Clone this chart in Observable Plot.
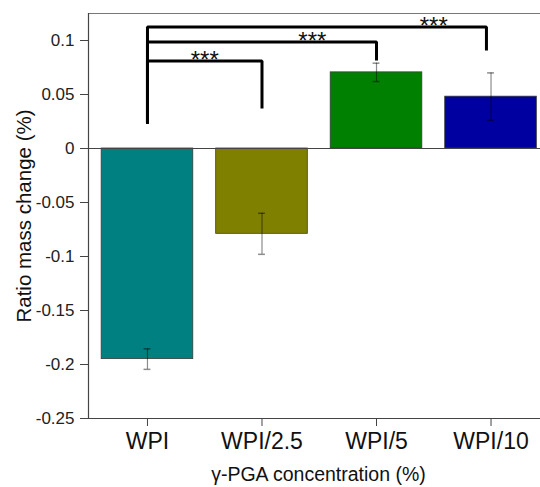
<!DOCTYPE html>
<html>
<head>
<meta charset="utf-8">
<script src="https://cdn.jsdelivr.net/npm/d3@7"></script>
<script src="https://cdn.jsdelivr.net/npm/@observablehq/plot@0.6"></script>
<style>
  html, body { margin: 0; padding: 0; background: #fff; }
  #chart svg { display: block; font-family: "Liberation Sans", Arial, sans-serif; }
</style>
</head>
<body>
<div id="chart"></div>
<script>
// ---- data ----
const categories = ["WPI", "WPI/2.5", "WPI/5", "WPI/10"];
const values = [-0.195, -0.079, 0.0705, 0.048];
const errors = [0.0095, 0.019, 0.0085, 0.022];
const colors = ["#008080", "#808000", "#008000", "#0000A0"];
const yTicks = [-0.25, -0.2, -0.15, -0.1, -0.05, 0, 0.05, 0.1];

// significance brackets: from category 0 to target
const bracketStart = 0.023;
const bracketTops = [0.081, 0.0985, 0.1125];
const bracketTargets = [1, 2, 2.96];
const bracketEnds = [0.037, 0.0815, 0.0907];
const starX = [0.5, 1.44, 2.5];
const starLabels = ["***", "***", "***"];

const xTitle = "γ-PGA concentration (%)";
const yTitle = "Ratio mass change (%)";

// ---- derived tables ----
const bars = categories.map((c, i) => ({
  i, c, v: values[i], e: errors[i], fill: colors[i]
}));
const bracketPts = [];
bracketTops.forEach((h, k) => {
  bracketPts.push({k, x: 0, y: bracketStart});
  bracketPts.push({k, x: 0, y: h});
  bracketPts.push({k, x: bracketTargets[k], y: h});
  bracketPts.push({k, x: bracketTargets[k], y: bracketEnds[k]});
});
const stars = starLabels.map((s, k) => ({s, x: starX[k], y: bracketTops[k] + 0.0055}));

const fmt = d => String(Math.round(d * 100) / 100);

const chart = Plot.plot({
  width: 540,
  height: 487,
  marginTop: 13,
  marginBottom: 69,
  marginLeft: 88,
  marginRight: 0,
  style: {fontFamily: "Liberation Sans, Arial, sans-serif", background: "#fff"},
  x: {type: "linear", domain: [-0.515, 3.432]},
  y: {domain: [-0.25, 0.125]},
  marks: [
    // frame lines
    Plot.ruleY([0.125], {stroke: "#777", strokeWidth: 1.2}),
    Plot.ruleY([-0.25], {stroke: "#444", strokeWidth: 1.2}),
    Plot.ruleX([-0.515], {stroke: "#444", strokeWidth: 1.2}),
    // bars
    Plot.rect(bars, {
      x1: d => d.i - 0.4, x2: d => d.i + 0.4, y1: 0, y2: "v",
      fill: "fill", stroke: "#3a3a3a", strokeWidth: 0.8
    }),
    Plot.ruleY([0], {stroke: "#444", strokeWidth: 1.2}),
    // error bars
    Plot.ruleX(bars, {x: "i", y1: d => d.v - d.e, y2: d => d.v + d.e, stroke: "#000", strokeOpacity: 0.45, strokeWidth: 1.2}),
    Plot.ruleY(bars, {y: d => d.v - d.e, x1: d => d.i - 0.03, x2: d => d.i + 0.03, stroke: "#000", strokeOpacity: 0.45, strokeWidth: 1.5}),
    Plot.ruleY(bars, {y: d => d.v + d.e, x1: d => d.i - 0.03, x2: d => d.i + 0.03, stroke: "#000", strokeOpacity: 0.45, strokeWidth: 1.5}),
    // brackets
    Plot.line(bracketPts, {x: "x", y: "y", z: "k", stroke: "#000", strokeWidth: 3, strokeLinejoin: "miter", strokeLinecap: "butt", curve: "linear"}),
    Plot.text(stars, {x: "x", y: "y", text: "s", fontSize: 24, fill: "#111", lineAnchor: "middle", dy: 5, style: {letterSpacing: "2px"}}),
    // axes
    Plot.axisY({ticks: yTicks, tickFormat: fmt, tickSize: 8, tickPadding: 6, fontSize: 17, label: null, stroke: "#444", color: "#222"}),
    Plot.axisX({ticks: [0, 1, 2, 3], tickFormat: i => categories[i], tickSize: 8, tickPadding: 6, fontSize: 23, label: null, stroke: "#444", color: "#111"}),
    // titles
    Plot.text([xTitle], {frameAnchor: "bottom", textAnchor: "middle", dx: 4, dy: 56, fontSize: 19.5, fill: "#111", lineAnchor: "middle"}),
    Plot.text([yTitle], {frameAnchor: "left", textAnchor: "middle", dx: -64, rotate: -90, fontSize: 20.5, fill: "#111", lineAnchor: "middle"})
  ]
});
document.getElementById("chart").appendChild(chart);
</script>
</body>
</html>
